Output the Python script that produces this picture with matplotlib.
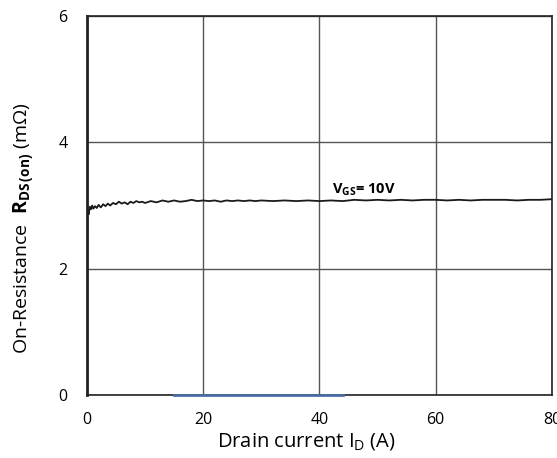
import matplotlib
matplotlib.use("Agg")
import matplotlib.pyplot as plt

plt.rcParams['font.family'] = ['Open Sans', 'DejaVu Sans']
plt.rcParams['mathtext.fontset'] = 'custom'
plt.rcParams['mathtext.rm'] = 'Open Sans'
plt.rcParams['mathtext.bf'] = 'Open Sans:bold'

# drain current (A) and on-resistance (mOhm)
current = [0, 0.05, 0.15, 0.3, 0.5, 0.7, 0.9, 1.1, 1.4, 1.7, 2.0, 2.4, 2.8, 3.2,
           3.6, 4.0, 4.5, 5.0, 5.5, 6.0, 6.5, 7.0, 7.5, 8.0, 8.5, 9.0, 9.5, 10.0,
           11, 12, 13, 14, 15, 16, 17, 18, 19, 20, 21, 22, 23, 24, 25, 26, 27, 28,
           29, 30, 32, 34, 36, 38, 40, 42, 44, 46, 48, 50, 52, 54, 56, 58, 60,
           62, 64, 66, 68, 70, 72, 74, 76, 78, 80]
rds = [0.0, 2.80, 2.92, 2.86, 2.98, 2.94, 3.00, 2.95, 2.99, 2.96, 3.01, 2.97, 3.02,
       2.99, 3.03, 3.00, 3.04, 3.02, 3.06, 3.03, 3.05, 3.02, 3.06, 3.04, 3.07,
       3.05, 3.06, 3.04, 3.07, 3.05, 3.08, 3.06, 3.08, 3.06, 3.07, 3.09, 3.07,
       3.08, 3.07, 3.08, 3.06, 3.08, 3.07, 3.08, 3.07, 3.08, 3.07, 3.08, 3.07,
       3.08, 3.07, 3.08, 3.07, 3.08, 3.07, 3.09, 3.08, 3.09, 3.08, 3.09, 3.08,
       3.09, 3.09, 3.08, 3.09, 3.08, 3.09, 3.09, 3.09, 3.08, 3.09, 3.09, 3.10]
zero_x = [15, 44]
zero_y = [0, 0]

fig = plt.figure(figsize=(5.57, 4.58), dpi=100)
ax = fig.add_axes([0.156, 0.1376, 0.835, 0.8274])

ax.plot(current, rds, color='#1a1a1a', lw=1.3)
ax.plot(zero_x, zero_y, color='#4a6fa5', lw=2.0, clip_on=False, zorder=5)

ax.set_xlim(0, 80)
ax.set_ylim(0, 6)
ax.set_xticks([0, 20, 40, 60, 80])
ax.set_yticks([0, 2, 4, 6])
ax.grid(True, color='#555555', lw=1.0)
ax.tick_params(length=0, labelsize=11.5)
ax.tick_params(axis='x', pad=12)
ax.tick_params(axis='y', pad=14)
for s in ax.spines.values():
    s.set_color('#222222')
    s.set_linewidth(1.2)
ax.spines['left'].set_linewidth(2.0)

ax.text(42.2, 3.2, r'V$_\mathregular{GS}$= 10V', fontsize=10.5, fontweight='bold')

ax.set_xlabel(r'Drain current I$\mathregular{_D}$ (A)', fontsize=14.5)
ax.set_ylabel(r'On-Resistance  $\mathbf{R_{DS\,(on)}}$ (m$\Omega$)', fontsize=14)
ax.xaxis.set_label_coords(0.473, -0.095)
ax.yaxis.set_label_coords(-0.108, 0.44)

fig.savefig('out.png', dpi=100)
